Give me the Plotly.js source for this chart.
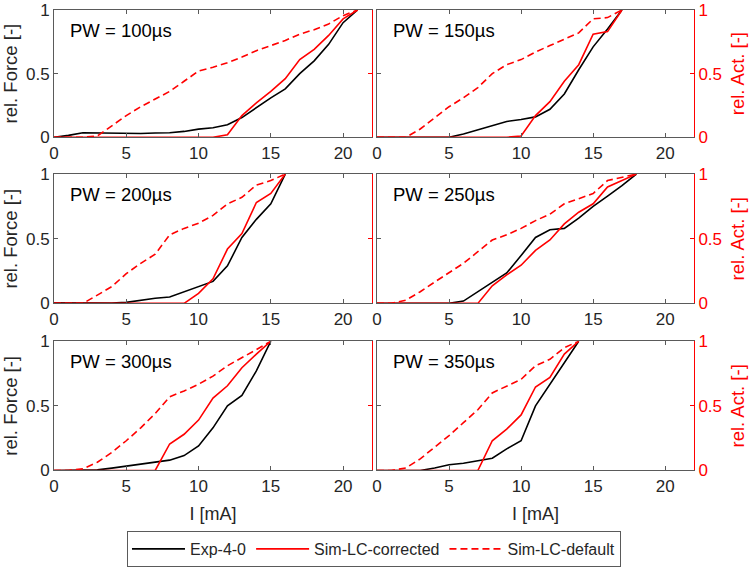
<!DOCTYPE html>
<html>
<head>
<meta charset="utf-8">
<script src="https://cdn.plot.ly/plotly-3.0.1.min.js"></script>
<style>
    html, body { margin: 0; padding: 0; background: #ffffff; }
    #chart { width: 754px; height: 567px; }
</style>
</head>
<body>
<div id="chart"></div>
<script>

// ==========================================================
// DATA
// ==========================================================

const pulseWidths = ["100", "150", "200", "250", "300", "350"];

const current100 = [0,1,2,3,4,5,6,7,8,9,10,11,12,13,14,15,16,17,18,19,20,21];
const exp100     = [0,0.015,0.036,0.034,0.032,0.03,0.03,0.033,0.036,0.046,0.064,0.075,0.098,0.155,0.235,0.31,0.38,0.5,0.6,0.73,0.9,1];
const corr100    = [0,0,0,0,0,0,0,0,0,0,0,0,0.02,0.17,0.27,0.36,0.46,0.61,0.69,0.8,0.93,1];
const def100     = [0,0,0,0.01,0.09,0.17,0.24,0.3,0.36,0.44,0.52,0.55,0.585,0.63,0.68,0.72,0.76,0.81,0.845,0.89,0.955,1];

const current150 = [0,1,2,3,4,5,6,7,8,9,10,11,12,13,14,15,16,17];
const exp150     = [0,0,0,0,0,0,0.026,0.057,0.09,0.124,0.14,0.16,0.22,0.34,0.53,0.71,0.85,1];
const corr150    = [0,0,0,0,0,0,0,0,0,0,0.01,0.17,0.28,0.44,0.57,0.81,0.83,1];
const def150     = [0,0,0,0.065,0.155,0.24,0.31,0.39,0.5,0.57,0.61,0.67,0.72,0.77,0.82,0.93,0.94,1];

const current200 = [0,1,2,3,4,5,6,7,8,9,10,11,12,13,14,15,16];
const exp200     = [0.005,0.004,0,0,0.002,0.008,0.026,0.04,0.05,0.09,0.13,0.17,0.29,0.51,0.65,0.77,1];
const corr200    = [0,0,0,0,0,0,0,0,0,0,0.077,0.19,0.42,0.54,0.78,0.85,1];
const def200     = [0,0,0,0.064,0.13,0.23,0.31,0.38,0.53,0.58,0.62,0.68,0.77,0.82,0.915,0.95,1];

const current250 = [0,1,2,3,4,5,6,7,8,9,10,11,12,13,14,15,16,17,18];
const exp250     = [0,0,0,0,0,0,0.018,0.09,0.16,0.235,0.37,0.51,0.57,0.58,0.66,0.75,0.83,0.91,1];
const corr250    = [0,0,0,0,0,0,0,0,0.136,0.22,0.295,0.41,0.49,0.615,0.705,0.77,0.9,0.95,1];
const def250     = [0,0,0.025,0.09,0.165,0.235,0.31,0.4,0.49,0.53,0.58,0.64,0.69,0.77,0.81,0.85,0.95,0.975,1];

const current300 = [0,1,2,3,4,5,6,7,8,9,10,11,12,13,14,15];
const exp300     = [0,0,0,0.005,0.018,0.033,0.046,0.064,0.08,0.115,0.19,0.33,0.5,0.58,0.77,1];
const corr300    = [0,0,0,0,0,0,0,0,0.205,0.28,0.39,0.56,0.655,0.795,0.9,1];
const def300     = [0,0,0.013,0.064,0.14,0.23,0.33,0.44,0.57,0.615,0.667,0.73,0.81,0.87,0.935,1];

const current350 = [0,1,2,3,4,5,6,7,8,9,10,11,12,13,14];
const exp350     = [0,0,0,0,0.02,0.044,0.056,0.077,0.095,0.167,0.23,0.5,0.667,0.83,1];
const corr350    = [0,0,0,0,0,0,0,0,0.23,0.32,0.43,0.646,0.72,0.9,1];
const def350     = [0,0,0.02,0.09,0.18,0.27,0.37,0.47,0.6,0.654,0.705,0.81,0.86,0.95,1];

const xTicks = [0, 5, 10, 15, 20];
const yTicks = [0, 0.5, 1];
const yTickText = ["0", "0.5", "1"];

const panels = [
    { current: current100, exp: exp100, corr: corr100, def: def100 },
    { current: current150, exp: exp150, corr: corr150, def: def150 },
    { current: current200, exp: exp200, corr: corr200, def: def200 },
    { current: current250, exp: exp250, corr: corr250, def: def250 },
    { current: current300, exp: exp300, corr: corr300, def: def300 },
    { current: current350, exp: exp350, corr: corr350, def: def350 }
];


// ==========================================================
// STYLE
// ==========================================================

const FONT = "Liberation Sans, Arial, sans-serif";
const GREY = "#5a5a5a";
const TEXT = "#262626";
const RED = "#ff0000";

// pixel boxes of the six plot areas, converted to paper fractions
const colX = [[54, 372], [377, 694]];
const rowY = [[10, 138], [175, 305], [343, 473]];
const W = 754, H = 567;


// ==========================================================
// BUILD TRACES AND AXES
// ==========================================================

let traces = [];

let layout = {
    width: W,
    height: H,
    margin: { l: 0, r: 0, t: 0, b: 0 },
    paper_bgcolor: "#ffffff",
    plot_bgcolor: "#ffffff",
    font: { family: FONT, size: 17, color: TEXT },
    showlegend: true,
    legend: {
        orientation: "h",
        x: 0.496,
        y: 0.0265,
        xanchor: "center",
        yanchor: "middle",
        bordercolor: GREY,
        borderwidth: 1,
        bgcolor: "#ffffff",
        font: { family: FONT, size: 16, color: TEXT },
        itemwidth: 53,
        tracegroupgap: 0
    },
    annotations: []
};

panels.forEach(function (p, i) {

    let n = i + 1;
    let col = i % 2;
    let row = Math.floor(i / 2);
    let xa = "x" + (n === 1 ? "" : n);
    let yl = "y" + (n === 1 ? "" : n);
    let yr = "y" + (n + 6);

    // Exp-4-0 on the force axis
    traces.push({
        x: p.current, y: p.exp,
        xaxis: xa, yaxis: yl,
        type: "scatter", mode: "lines",
        name: "Exp-4-0",
        legendgroup: "exp",
        showlegend: i === 0,
        line: { color: "#000000", width: 1.6 }
    });

    // simulations on the activation axis
    traces.push({
        x: p.current, y: p.corr,
        xaxis: xa, yaxis: yr,
        type: "scatter", mode: "lines",
        name: "Sim-LC-corrected",
        legendgroup: "corr",
        showlegend: i === 0,
        line: { color: RED, width: 1.6 }
    });

    traces.push({
        x: p.current, y: p.def,
        xaxis: xa, yaxis: yr,
        type: "scatter", mode: "lines",
        name: "Sim-LC-default",
        legendgroup: "def",
        showlegend: i === 0,
        line: { color: RED, width: 1.6, dash: "7px,4px" }
    });

    let xDom = [colX[col][0] / W, colX[col][1] / W];
    let yDom = [1 - rowY[row][1] / H, 1 - rowY[row][0] / H];

    layout["xaxis" + (n === 1 ? "" : n)] = {
        domain: xDom,
        anchor: yl,
        range: [0, 22],
        tickvals: xTicks,
        ticks: "inside",
        ticklen: 4,
        tickcolor: GREY,
        showline: true,
        linecolor: GREY,
        linewidth: 1,
        mirror: "ticks",
        showgrid: false,
        zeroline: false,
        ticklabeloverflow: "allow",
        tickfont: { family: FONT, size: 17, color: TEXT },
        title: row === 2 ? { text: "I [mA]", font: { family: FONT, size: 18, color: TEXT }, standoff: 12 } : undefined
    };

    layout["yaxis" + (n === 1 ? "" : n)] = {
        domain: yDom,
        anchor: xa,
        range: [0, 1],
        tickvals: yTicks,
        ticktext: yTickText,
        showticklabels: col === 0,
        ticks: "inside",
        ticklen: 4,
        tickcolor: GREY,
        showline: true,
        linecolor: GREY,
        linewidth: 1,
        showgrid: false,
        zeroline: false,
        ticklabeloverflow: "allow",
        tickfont: { family: FONT, size: 17, color: TEXT },
        title: col === 0 ? { text: "rel. Force [-]", font: { family: FONT, size: 18.5, color: TEXT }, standoff: 4 } : undefined
    };

    layout["yaxis" + (n + 6)] = {
        overlaying: yl,
        anchor: xa,
        side: "right",
        range: [0, 1],
        tickvals: yTicks,
        ticktext: yTickText,
        showticklabels: col === 1,
        ticks: "inside",
        ticklen: 4,
        tickcolor: RED,
        showline: true,
        linecolor: RED,
        linewidth: 1,
        showgrid: false,
        zeroline: false,
        ticklabeloverflow: "allow",
        tickfont: { family: FONT, size: 17, color: RED },
        title: col === 1 ? { text: "rel. Act. [-]", font: { family: FONT, size: 18.5, color: RED }, standoff: 10 } : undefined
    };

    layout.annotations.push({
        xref: xa + " domain",
        yref: yl + " domain",
        x: 0.044,
        y: 0.84,
        xanchor: "left",
        yanchor: "middle",
        showarrow: false,
        text: "PW = " + pulseWidths[i] + "µs",
        font: { family: FONT, size: 18.5, color: "#000000" }
    });

});


// ==========================================================
// DRAW
// ==========================================================

Plotly.newPlot("chart", traces, layout, { staticPlot: true, displayModeBar: false });

</script>
</body>
</html>
